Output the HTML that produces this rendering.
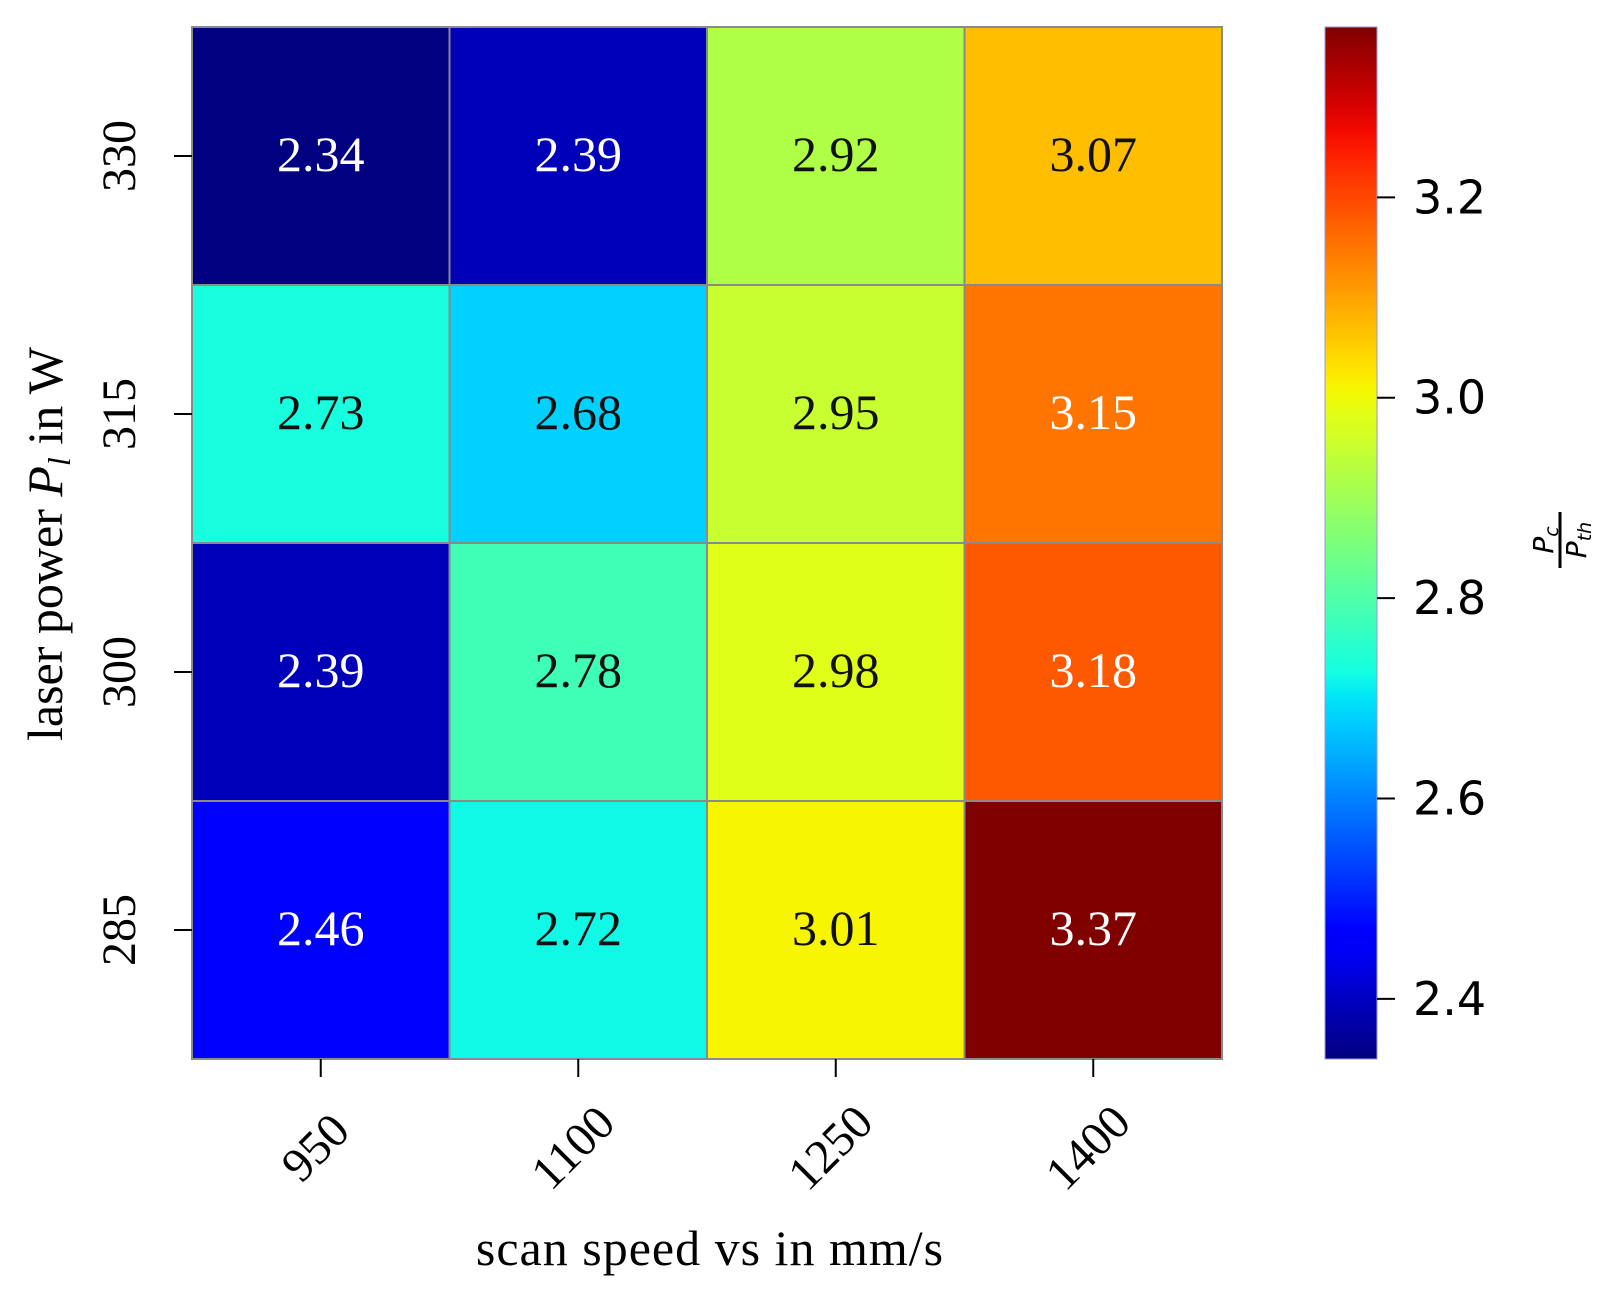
<!DOCTYPE html>
<html><head><meta charset="utf-8"><style>
html,body{margin:0;padding:0;background:#fff;}
svg text{font-family:"Liberation Serif",serif;}
</style></head><body>
<svg id="chart" width="1623" height="1290" xmlns="http://www.w3.org/2000/svg">
<defs><linearGradient id="jet" x1="0" y1="1" x2="0" y2="0"></linearGradient></defs>
<g id="cells"></g>
<g id="axes"></g>
<g id="cbar"></g>
</svg>
<script>
const xCategories = ["950","1100","1250","1400"];
const yCategories = ["330","315","300","285"];
const row330 = [2.34,2.39,2.92,3.07];
const row315 = [2.73,2.68,2.95,3.15];
const row300 = [2.39,2.78,2.98,3.18];
const row285 = [2.46,2.72,3.01,3.37];
const values = [row330,row315,row300,row285];
const cbarTicks = [2.4,2.6,2.8,3.0,3.2];
const vmin = 2.34, vmax = 3.37;

const NS="http://www.w3.org/2000/svg";
function mk(tag,attrs,parent){const e=document.createElementNS(NS,tag);for(const k in attrs)e.setAttribute(k,attrs[k]);parent.appendChild(e);return e;}
const RS=[[0,0],[0.35,0],[0.66,1],[0.89,1],[1,0.5]];
const GS=[[0,0],[0.125,0],[0.375,1],[0.64,1],[0.91,0],[1,0]];
const BS=[[0,0.5],[0.11,1],[0.34,1],[0.65,0],[1,0]];
function seg(s,t){for(let k=1;k<s.length;k++){if(t<=s[k][0]){const a=s[k-1],b=s[k];return a[1]+(b[1]-a[1])*(t-a[0])/(b[0]-a[0]);}}return s[s.length-1][1];}
function jet(t){t=Math.max(0,Math.min(1,t));
  return `rgb(${Math.round(seg(RS,t)*255)},${Math.round(seg(GS,t)*255)},${Math.round(seg(BS,t)*255)})`;}
const L=192,T=27,W=1030,H=1032;
const cw=W/xCategories.length, ch=H/yCategories.length;
const xPos=i=>L+cw*(i+0.5), yPos=j=>T+ch*(j+0.5);
const cells=document.getElementById('cells'), axes=document.getElementById('axes'), cbar=document.getElementById('cbar');
values.forEach((row,j)=>row.forEach((v,i)=>{
  const t=(v-vmin)/(vmax-vmin);
  const r=mk('rect',{x:L+cw*i,y:T+ch*j,width:cw,height:ch,fill:jet(t),stroke:'#8a8a8a','stroke-width':2},cells);
  
  
  const tx=mk('text',{x:xPos(i),y:yPos(j)+15,'text-anchor':'middle','font-size':50,fill:(t<0.15||t>0.78)?'#fff':'#111'},cells);
  tx.textContent=v.toFixed(2);
  
  
}));
xCategories.forEach((c,i)=>{
  mk('line',{x1:xPos(i),x2:xPos(i),y1:T+H,y2:T+H+18,stroke:'#000','stroke-width':2},axes);
  const x=xPos(i)-2,y=T+H+92;
  const tx=mk('text',{x:x,y:y,'text-anchor':'middle','dominant-baseline':'middle','font-size':48,transform:`rotate(-45 ${x} ${y})`},axes);
  tx.textContent=c;
  
  
});
yCategories.forEach((c,j)=>{
  mk('line',{x1:L-18,x2:L,y1:yPos(j),y2:yPos(j),stroke:'#000','stroke-width':2},axes);
  const x=124,y=yPos(j);
  const tx=mk('text',{x:x,y:y,'text-anchor':'middle','dominant-baseline':'middle','font-size':48,transform:`rotate(-90 ${x} ${y})`},axes);
  tx.textContent=c;
  
  
});
const xt=mk('text',{x:710,y:1265,'text-anchor':'middle','font-size':50,'letter-spacing':'1'},axes);
xt.textContent='scan speed vs in mm/s';


const yt=mk('text',{x:62,y:544,'text-anchor':'middle','font-size':50,transform:'rotate(-90 62 544)'},axes);
yt.innerHTML='laser power <tspan font-style="italic">P</tspan><tspan font-style="italic" font-size="32" dy="8">l</tspan><tspan dy="-8"> in W</tspan>';


// colorbar
const grad=document.getElementById('jet');
for(let k=0;k<=40;k++){mk('stop',{offset:(k/40),'stop-color':jet(k/40)},grad);}
const CX=1325,CW=52;
const cy=v=>T+H-(v-vmin)/(vmax-vmin)*H;
const cr=mk('rect',{x:CX,y:T,width:CW,height:H,fill:'url(#jet)',stroke:'#9a9ad0','stroke-width':1},cbar);


cbarTicks.forEach(v=>{
  mk('line',{x1:CX+CW,x2:CX+CW+18,y1:cy(v),y2:cy(v),stroke:'#000','stroke-width':2},cbar);
  const tx=mk('text',{x:1413,y:cy(v)+16,'font-size':46,style:'font-family:"DejaVu Sans",sans-serif'},cbar);
  tx.textContent=v.toFixed(1);
  
  
});
const cl=mk('g',{transform:'translate(1560 540) rotate(-90)'},cbar);


const n=mk('text',{x:0,y:-7,'text-anchor':'middle','font-size':28,'font-style':'italic',style:'font-family:"DejaVu Sans",sans-serif'},cl);
n.innerHTML='P<tspan font-size="19" dy="5">c</tspan>';
mk('line',{x1:-28,x2:28,y1:0,y2:0,stroke:'#000','stroke-width':3},cl);
const d=mk('text',{x:0,y:26,'text-anchor':'middle','font-size':28,'font-style':'italic',style:'font-family:"DejaVu Sans",sans-serif'},cl);
d.innerHTML='P<tspan font-size="19" dy="5">th</tspan>';
</script>
</body></html>
